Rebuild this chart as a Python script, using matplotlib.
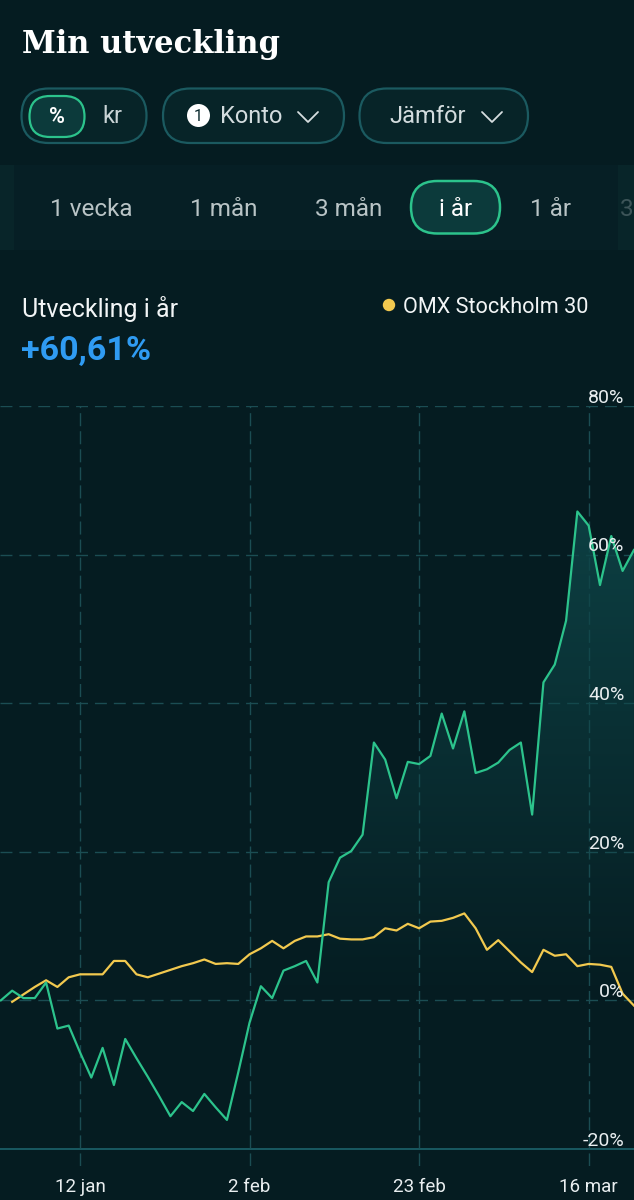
import matplotlib
matplotlib.use("Agg")
import matplotlib.pyplot as plt
import numpy as np
from matplotlib.patches import FancyBboxPatch, Circle, PathPatch, Rectangle

# ---------------- data ----------------
# portfolio development (%) per trading day, index 0..56
green = [0.0, 1.3, 0.3, 0.3, 2.4, -3.8, -3.4, -7.0, -10.4, -6.4,
         -11.4, -5.2, -7.8, -10.3, -12.9, -15.6, -13.7, -14.9, -12.6, -14.4,
         -16.1, -9.7, -3.0, 1.9, 0.3, 4.0, 4.6, 5.3, 2.4, 15.9,
         19.2, 20.1, 22.3, 34.7, 32.4, 27.2, 32.1, 31.8, 32.9, 38.6,
         33.9, 38.9, 30.6, 31.1, 32.0, 33.7, 34.7, 25.0, 42.8, 45.2,
         51.1, 65.8, 63.9, 55.9, 62.5, 57.8, 60.61]
# OMX Stockholm 30 (%) per trading day, index 1..56
omx = [-0.2, 0.8, 1.8, 2.7, 1.8, 3.1, 3.5, 3.5, 3.5, 5.3,
       5.3, 3.5, 3.1, 3.6, 4.1, 4.6, 5.0, 5.5, 4.9, 5.0,
       4.9, 6.2, 7.0, 8.0, 7.0, 8.0, 8.6, 8.6, 8.9, 8.3,
       8.2, 8.2, 8.5, 9.7, 9.4, 10.3, 9.7, 10.6, 10.7, 11.1,
       11.7, 9.7, 6.8, 8.1, 6.6, 5.1, 3.8, 6.8, 6.0, 6.2,
       4.6, 4.9, 4.8, 4.5, 0.9, -0.7]
omx_start = 1

xtick_idx = [7, 22, 37, 52]
xtick_labels = ["12 jan", "2 feb", "23 feb", "16 mar"]
ytick_vals = [-20, 0, 20, 40, 60, 80]

tabs = ["1 vecka", "1 mån", "3 mån", "i år", "1 år", "3 år"]
title = "Min utveckling"
subtitle = "Utveckling i år"
result_text = "+60,61%"
legend_label = "OMX Stockholm 30"

# ---------------- style ----------------
BG = "#051c21"
STRIP = "#061f25"
GREEN = "#2cc38c"
YELLOW = "#f2c94f"
BLUE = "#2f9bf2"
GRID = "#1b4d53"
BORDER = "#1b5a60"
PILL_FC = "#072428"
SEL_FC = "#0c3a3b"
TXT = "#e9eef0"
TAB_TXT = "#b9c4c6"
UI_FONT = ["Roboto", "DejaVu Sans"]

plt.rcParams["font.family"] = UI_FONT
plt.rcParams["lines.scale_dashes"] = False

fig = plt.figure(figsize=(6.34, 12), dpi=100, facecolor=BG)

# UI layer in pixel coordinates
ui = fig.add_axes([0, 0, 1, 1])
ui.set_xlim(0, 634)
ui.set_ylim(1200, 0)
ui.axis("off")
ui.set_zorder(0)


def pill(x0, y0, w, h, fc, ec, lw):
    p = FancyBboxPatch((x0, y0), w, h,
                       boxstyle=f"round,pad=0,rounding_size={h / 2}",
                       fc=fc, ec=ec, lw=lw)
    ui.add_patch(p)


def chevron(xc, yc, w=20, h=10):
    ui.plot([xc - w / 2, xc, xc + w / 2], [yc - h / 2, yc + h / 2, yc - h / 2],
            color="#d6dee0", lw=1.3, solid_capstyle="round", solid_joinstyle="round")


# title
ui.text(22, 53, title, family=["DejaVu Serif"], fontweight="heavy",
        fontsize=22, color="#ffffff", va="baseline", ha="left")

# buttons row
pill(21.5, 88.5, 125, 54.5, PILL_FC, BORDER, 1.6)
pill(29.5, 96, 55, 41, SEL_FC, GREEN, 1.6)
ui.text(57, 123, "%", fontsize=15.5, fontweight="bold", color="#ffffff",
        ha="center", va="baseline")
ui.text(112, 123, "kr", fontsize=17, color="#c9d3d5", ha="center", va="baseline")

pill(163, 88.5, 181, 54.5, PILL_FC, BORDER, 1.6)
ui.add_patch(Circle((198.5, 115.5), 11.5, fc="#ffffff", ec="none"))
ui.text(198.5, 121, "1", fontsize=11.5, color="#0b2a2e", ha="center", va="baseline")
ui.text(220.5, 123, "Konto", fontsize=17, color="#d3dcde", ha="left", va="baseline")
chevron(308, 117)

pill(359.5, 88.5, 168.5, 54.5, PILL_FC, BORDER, 1.6)
ui.text(389.5, 123, "Jämför", fontsize=17, color="#d3dcde", ha="left", va="baseline")
chevron(492, 117)

# tab strip
ui.add_patch(Rectangle((0, 165), 634, 85, fc=STRIP, ec="none"))
ui.add_patch(Rectangle((0, 165), 14, 85, fc="#082529", ec="none"))
ui.add_patch(Rectangle((618, 165), 16, 85, fc="#082529", ec="none"))
tab_x = [91, 224, 349, 455.5, 551, 640]
pill(411, 181, 89, 52.5, SEL_FC, GREEN, 1.8)
for lbl, tx in zip(tabs, tab_x):
    sel = lbl == "i år"
    ui.text(tx, 215.5, lbl, fontsize=17.5, color="#ffffff" if sel else TAB_TXT,
            ha="center", va="baseline", alpha=1.0 if tx < 620 else 0.3)

# development header
ui.text(22, 316.5, subtitle, fontsize=18, color="#f2f5f6", ha="left", va="baseline")
ui.text(21, 360, result_text, fontsize=24.5, fontweight="bold", color=BLUE,
        ha="left", va="baseline")
ui.add_patch(Circle((389, 305), 6.2, fc=YELLOW, ec="none"))
ui.text(403, 313, legend_label, fontsize=15.6, color="#f2f5f6", ha="left", va="baseline")

# ---------------- chart ----------------
ax = fig.add_axes([0, 1 - 1166 / 1200, 1, (1166 - 406) / 1200])
ax.set_zorder(1)
ax.patch.set_alpha(0)
YMIN, YMAX = -22.3, 80
XMIN, XMAX = -0.077, 56.01
ax.set_xlim(XMIN, XMAX)
ax.set_ylim(YMIN, YMAX)
for s in ax.spines.values():
    s.set_visible(False)

# grid
for v in ytick_vals:
    if v == -20:
        ax.axhline(v, color="#1f6a72", lw=1.1, zorder=1)
    else:
        ax.axhline(v, color=GRID, lw=1.0, ls=(0, (8.6, 5.0)), zorder=1)
for xi in xtick_idx:
    ax.axvline(xi, color=GRID, lw=1.0, ls=(0, (9.4, 3.6)), zorder=1)

xg = np.arange(len(green))
xo = np.arange(omx_start, omx_start + len(omx))

# gradient fill under portfolio line
poly = ax.fill_between(xg, green, YMIN, color="none", lw=0)
clip = PathPatch(poly.get_paths()[0], transform=ax.transData, fc="none", ec="none")
ax.add_patch(clip)
yy = np.linspace(YMIN, YMAX, 300)
alpha = np.clip((yy - 0) / 70.0, 0, 1) * 0.95
grad = np.zeros((300, 1, 4))
grad[..., 0] = 0.055
grad[..., 1] = 0.27
grad[..., 2] = 0.28
grad[:, 0, 3] = alpha
im = ax.imshow(grad, extent=[XMIN, XMAX, YMIN, YMAX], origin="lower",
               aspect="auto", zorder=2, interpolation="bilinear")
im.set_clip_path(clip)

ax.plot(xo, omx, color=YELLOW, lw=1.6, zorder=4, solid_joinstyle="round")
ax.plot(xg, green, color=GREEN, lw=1.6, zorder=5, solid_joinstyle="round")

# y labels
for v in ytick_vals:
    ax.annotate(f"{v}%", xy=(1, v), xycoords=("axes fraction", "data"),
                xytext=(-9.5, 3.2), textcoords="offset pixels",
                ha="right", va="baseline", fontsize=14, color=TXT,
                annotation_clip=False, zorder=6)

ax.set_xticks(xtick_idx)
ax.set_xticklabels(xtick_labels)
ax.set_yticks([])
ax.tick_params(axis="x", length=0, pad=9, labelsize=13.5, labelcolor=TXT)

fig.savefig("out.png", dpi=100, facecolor=BG)
